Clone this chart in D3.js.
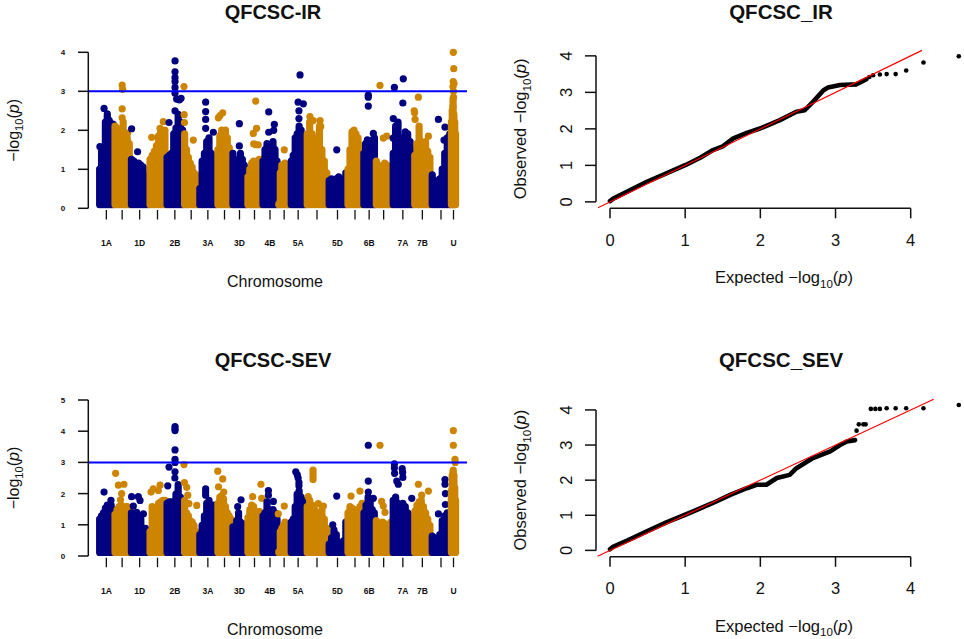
<!DOCTYPE html>
<html><head><meta charset="utf-8">
<script src="https://cdn.jsdelivr.net/npm/d3@7"></script>
<style>
body{margin:0;background:#fff}
svg{display:block}
text{font-family:"Liberation Sans",Arial,sans-serif;fill:#111}
</style>
</head><body>
<svg id="c" width="964" height="639"></svg>
<script>
// ---------------- DATA ----------------
const chromosomes = ["1A","1B","1D","2A","2B","2D","3A","3B","3D","4A","4B","4D","5A","5B","5D","6A","6B","6D","7A","7B","7D","U"];
const chromLengths = [15.3,16.3,18.7,17,17.7,15,18.3,15,15,15,16,12.3,15.7,22,19,16,12.3,16.7,21.7,17.3,20,5];
const chromTickLabels = ["1A","1D","2B","3A","3D","4B","5A","5D","6B","7A","7B","U"];

// dense SNP mass (upper envelope along each chromosome), QFCSC-IR
const irMass = [
  [1.1,1.55,1.3,2.3,2.45,2.35,2.25,2.25],
  [2.2,2.15,1.85,2.05,2.3,2.0,1.9,1.75],
  [1.35,1.3,1.15,1.25,1.2,1.15,0.95,0.75],
  [1.35,1.45,1.55,1.7,1.95,2.05,2.0,2.1],
  [1.4,1.45,1.5,2.0,2.15,2.5,2.3,2.1],
  [2.0,1.6,1.4,1.25,1.15,1.0,0.95,0.8],
  [0.6,1.3,1.5,1.8,1.9,1.5,1.4,1.35],
  [1.6,1.95,2.1,2.05,2.1,1.9,1.65,1.5],
  [1.5,1.3,1.2,1.35,1.5,1.35,1.2,1.1],
  [0.9,1.1,1.25,1.3,1.25,1.3,1.35,1.35],
  [1.3,1.6,1.75,1.65,1.7,1.8,1.6,1.3],
  [0.2,1.0,1.2,1.1,1.25,1.0,0.5,0.15],
  [1.3,1.45,1.9,2.0,2.2,2.1,1.9,1.7],
  [2.0,2.3,2.0,1.8,1.9,2.2,1.6,1.3,1.0],
  [0.8,0.85,0.8,0.85,0.9,0.7,0.85,1.0],
  [1.1,1.6,2.05,2.1,2.0,1.9,1.7,1.55],
  [1.5,1.75,1.85,1.8,1.7,1.85,1.9],
  [1.3,1.2,0.85,0.9,1.25,1.2,1.0,0.75],
  [1.5,2.2,2.3,1.9,1.8,2.05,2.0,1.8,1.6],
  [1.45,1.75,2.2,1.8,1.7,1.8,1.55,1.4],
  [0.95,0.8,0.6,0.85,1.1,1.5,1.9,2.0],
  [2.3,2.6,2.9,2.5,2.3,2.0]
];
// individual SNPs standing out: [chromosome, relative position, -log10(p)]
const irPeaks = [
  ["1A",0.08,1.58],["1A",0.35,2.56],["1A",0.56,2.42],
  ["1B",0.5,3.16],["1B",0.53,3.05],["1B",0.5,2.55],["1B",0.5,2.32],["1B",0.84,1.93],
  ["1D",0.07,2.04],["1D",0.39,1.45],
  ["2A",0.16,1.82],["2A",0.84,2.22],["2A",0.65,2.05],
  ["2B",0.17,2.2],["2B",0.51,3.78],["2B",0.51,3.5],["2B",0.51,3.35],["2B",0.51,3.25],["2B",0.51,3.1],["2B",0.51,2.95],["2B",0.51,2.5],["2B",0.6,2.8],["2B",0.75,2.78],["2B",0.85,2.82],
  ["2D",0.02,3.12],["2D",0.03,2.4],["2D",0.05,2.2],["2D",0.64,1.75],
  ["3A",0.38,2.72],["3A",0.38,2.48],["3A",0.38,2.28],["3A",0.38,2.05],["3A",0.8,1.95],
  ["3B",0.09,2.32],["3B",0.2,2.38],["3B",0.38,2.45],
  ["3D",0.49,2.17],["3D",0.49,1.6],
  ["4A",0.58,2.75],["4A",0.64,2.05],["4A",0.42,1.92],["4A",0.45,1.65],["4A",0.6,1.63],["4A",0.75,1.63],
  ["4B",0.42,2.47],["4B",0.42,1.95],["4B",0.77,2.15],["4B",0.73,2.0],
  ["4D",0.51,1.5],
  ["5A",0.62,3.42],["5A",0.5,2.72],["5A",0.83,2.68],["5A",0.55,2.5],["5A",0.55,2.3],
  ["5B",0.18,2.35],["5B",0.33,2.25],["5B",0.64,2.25],["5B",0.67,2.1],
  ["5D",0.46,1.5],
  ["6B",0.43,2.9],["6B",0.43,2.85],["6B",0.43,2.62],["6B",0.84,1.92],
  ["6D",0.28,3.15],["6D",0.48,1.8],["6D",0.68,1.85],
  ["7A",0.11,3.1],["7A",0.52,3.32],["7A",0.5,2.7],["7A",0.06,2.3],["7A",0.05,1.8],
  ["7B",0.27,2.85],["7B",0.03,2.5],["7B",0.05,2.45],["7B",0.08,2.28],["7B",0.85,1.85],
  ["7D",0.37,2.28],["7D",0.7,2.08],["7D",0.65,1.75],
  ["U",0.47,4.0],["U",0.55,3.58],["U",0.45,3.25],["U",0.6,3.2],["U",0.4,3.12],["U",0.5,3.0],["U",0.5,2.85],["U",0.4,2.6]
];

// QFCSC-SEV
const sevMass = [
  [1.3,1.4,1.5,1.65,1.75,1.7,1.75,1.6],
  [1.45,1.6,1.7,1.75,1.65,1.7,1.7,1.65],
  [1.5,1.3,1.2,1.35,1.3,1.0,1.0,0.9],
  [0.9,1.7,1.55,1.3,1.8,1.85,1.9,1.9],
  [1.8,1.85,1.85,1.7,2.1,2.4,2.0,1.8],
  [1.9,1.5,1.4,1.25,1.2,1.1,0.9,0.75],
  [0.8,1.1,1.4,1.8,1.9,1.5,1.5,1.6],
  [1.8,2.0,2.05,1.95,1.7,1.5,1.4,1.3],
  [1.05,1.0,1.25,1.5,1.2,1.15,1.1,1.1],
  [1.35,1.6,1.75,1.7,1.35,1.5,1.55,1.5],
  [1.4,1.5,1.85,1.6,1.5,1.6,1.5,1.3],
  [0.25,0.9,1.0,1.1,1.2,0.9,0.4,0.2],
  [1.2,1.3,1.7,2.1,2.2,2.0,1.9,1.8],
  [1.7,1.9,1.75,1.6,1.5,1.45,1.6,1.3,1.0],
  [0.5,0.7,0.95,0.8,0.55,0.5,0.6,1.2],
  [1.5,1.7,1.65,1.6,1.55,1.6,1.7,1.8],
  [1.5,1.75,2.0,1.9,1.6,1.5],
  [1.25,1.1,0.9,1.2,1.15,1.0,1.1,1.2],
  [1.9,2.0,1.8,1.6,1.8,1.7,1.5,1.4,1.3],
  [1.55,1.75,1.85,1.9,1.7,1.5,1.3,1.1],
  [0.75,0.7,0.6,0.8,1.25,1.4,1.5,1.4],
  [2.2,2.7,2.8,2.7,2.3,1.9]
];
const sevPeaks = [
  ["1A",0.35,2.05],["1A",0.8,1.78],
  ["1B",0.1,2.65],["1B",0.27,2.27],["1B",0.61,2.3],["1B",0.47,2.0],["1B",0.4,1.8],
  ["1D",0.07,1.9],["1D",0.43,1.9],["1D",0.52,1.78],["1D",0.16,1.6],["1D",0.34,1.4],["1D",0.7,1.35],
  ["2A",0.25,2.15],["2A",0.12,2.05],["2A",0.65,2.27],["2A",0.55,2.1],
  ["2B",0.51,4.15],["2B",0.51,4.08],["2B",0.51,4.02],["2B",0.51,3.4],["2B",0.51,3.1],["2B",0.51,3.0],["2B",0.51,2.7],["2B",0.5,2.5],["2B",0.17,2.85],["2B",0.1,2.25],
  ["2D",0.02,2.93],["2D",0.05,2.35],["2D",0.2,2.2],["2D",0.27,1.95],["2D",0.35,1.68],["2D",0.87,1.62],
  ["3A",0.38,2.15],["3A",0.38,2.05],["3A",0.38,1.95],["3A",0.8,1.63],
  ["3B",0.05,2.72],["3B",0.38,2.47],["3B",0.1,2.22],["3B",0.45,2.05],
  ["3D",0.6,1.8],["3D",0.38,1.58],
  ["4A",0.38,1.9],["4A",0.93,2.3],["4A",0.98,1.85],
  ["4B",0.4,2.1],["4B",0.4,1.95],["4B",0.71,1.75],
  ["4D",0.51,1.6],["4D",0.02,1.35],
  ["5A",0.35,2.7],["5A",0.45,2.6],["5A",0.5,2.5],["5A",0.55,2.35],["5A",0.55,2.25],
  ["5B",0.32,2.75],["5B",0.32,2.65],["5B",0.32,2.55],["5B",0.32,2.45],["5B",0.1,1.9],["5B",0.56,1.68],["5B",0.79,1.6],
  ["5D",0.46,1.92],["5D",0.25,1.0],
  ["6A",0.25,1.92],["6A",0.81,2.08],
  ["6B",0.43,3.55],["6B",0.43,2.4],["6B",0.43,2.05],["6B",0.84,1.85],
  ["6D",0.28,3.55],["6D",0.38,1.75],["6D",0.48,1.6],["6D",0.58,1.4],
  ["7A",0.11,2.95],["7A",0.11,2.82],["7A",0.12,2.65],["7A",0.22,2.4],["7A",0.29,2.3],["7A",0.47,2.8],["7A",0.49,2.68],["7A",0.5,2.52],["7A",0.91,1.85],
  ["7B",0.27,2.3],["7B",0.85,2.08],["7B",0.46,1.95],
  ["7D",0.7,2.45],["7D",0.7,2.3],["7D",0.72,2.0],["7D",0.72,1.65],["7D",0.37,1.35],
  ["U",0.47,4.02],["U",0.47,3.55],["U",0.8,3.1],["U",0.85,3.0],["U",0.45,2.75]
];

// Q-Q plots: dense part of the curve and the sparse upper tail
const qqIrExp  = [0,0.044,0.25,0.49,0.75,1.0,1.2,1.37,1.5,1.64,1.82,1.995,2.26,2.48,2.59,2.70,2.84,2.90,3.06,3.28,3.41];
const qqIrObs  = [0.02,0.09,0.30,0.55,0.78,1.005,1.21,1.42,1.52,1.74,1.89,2.01,2.24,2.47,2.51,2.74,3.06,3.13,3.20,3.22,3.36];
const qqIrTailExp = [3.45,3.50,3.59,3.68,3.80,3.94,4.17,4.64];
const qqIrTailObs = [3.42,3.47,3.49,3.50,3.50,3.60,3.82,3.99];

const qqSevExp = [0,0.04,0.25,0.49,0.75,1.0,1.37,1.6,1.82,1.95,2.08,2.22,2.39,2.48,2.70,2.93,3.06,3.15,3.26];
const qqSevObs = [0.03,0.1,0.30,0.54,0.80,1.015,1.35,1.58,1.77,1.87,1.87,2.06,2.15,2.34,2.63,2.82,3.0,3.10,3.14];
const qqSevTailExp = [3.28,3.31,3.37,3.40,3.47,3.53,3.59,3.68,3.80,3.94,4.17,4.64];
const qqSevTailObs = [3.41,3.59,3.59,3.59,4.03,4.03,4.03,4.05,4.05,4.05,4.05,4.14];

const qqTicks = [0,1,2,3,4];
const threshold = 3;

// ---------------- DRAW ----------------
const NAVY = "#000080", ORANGE = "#CD8500";
const svg = d3.select("#c");
svg.append("rect").attr("width",964).attr("height",639).attr("fill","#fff");

const starts = [0, ...d3.cumsum(chromLengths)];
const total = starts[starts.length-1];
const xMan = d3.scaleLinear().domain([0,total]).range([98.7,456]);
const idx = Object.fromEntries(chromosomes.map((c,i)=>[c,i]));

function logLabel(g, prefix, size){
  const t = g.append("text").attr("font-size",size).attr("text-anchor","middle");
  t.append("tspan").text(prefix + "\u2212log");
  t.append("tspan").attr("font-size",size*0.7).attr("dy",size*0.28).text("10");
  t.append("tspan").attr("dy",-size*0.28).text("(");
  t.append("tspan").attr("font-style","italic").text("p");
  t.append("tspan").text(")");
  return t;
}

function manhattan(oy, title, mass, peaks, yMax, yTop){
  // oy: pixel of y=0 ; yTop: pixel of y=yMax
  const g = svg.append("g");
  const y = d3.scaleLinear().domain([0,yMax]).range([oy,yTop]);
  const r = 3.6;
  chromosomes.forEach((c,i)=>{
    const col = i%2===0 ? NAVY : ORANGE;
    const cg = g.append("g").attr("stroke",col).attr("fill",col);
    const n = mass[i].length;
    cg.selectAll("line").data(mass[i]).join("line")
      .attr("x1",(d,j)=>xMan(starts[i] + (j+0.5)/n*chromLengths[i]))
      .attr("x2",(d,j)=>xMan(starts[i] + (j+0.5)/n*chromLengths[i]))
      .attr("y1",oy - r)
      .attr("y2",d=>Math.min(y(d)+r, oy - r))
      .attr("stroke-width",2*r).attr("stroke-linecap","round");
    cg.selectAll("circle").data(peaks.filter(p=>p[0]===c)).join("circle")
      .attr("cx",d=>xMan(starts[i] + d[1]*chromLengths[i]))
      .attr("cy",d=>y(d[2]))
      .attr("r",r).attr("stroke","none");
  });
  // threshold
  g.append("line").attr("x1",88).attr("x2",467).attr("y1",y(threshold)).attr("y2",y(threshold))
    .attr("stroke","#0000FF").attr("stroke-width",2);
  // y axis
  const ya = g.append("g").attr("stroke","#111").attr("stroke-width",1.5);
  ya.append("line").attr("x1",88.3).attr("x2",88.3).attr("y1",y(0)).attr("y2",y(yMax));
  const yt = d3.range(0,yMax+1);
  ya.selectAll(".tk").data(yt).join("line").attr("class","tk")
    .attr("x1",78).attr("x2",88.3).attr("y1",d=>y(d)).attr("y2",d=>y(d));
  g.selectAll(".yl").data(yt).join("text").attr("class","yl")
    .attr("x",63).attr("y",d=>y(d)+3).attr("text-anchor","middle")
    .attr("font-size",8).attr("font-weight","bold").text(d=>d);
  // x ticks
  const centers = chromosomes.map((c,i)=>xMan(starts[i]+chromLengths[i]/2));
  g.selectAll(".xt").data(centers).join("line").attr("class","xt")
    .attr("x1",d=>d).attr("x2",d=>d).attr("y1",oy+1.7).attr("y2",oy+11.2)
    .attr("stroke","#111").attr("stroke-width",1.3);
  g.selectAll(".xl").data(chromosomes.filter(c=>chromTickLabels.includes(c))).join("text").attr("class","xl")
    .attr("x",c=>centers[idx[c]]).attr("y",oy+38).attr("text-anchor","middle")
    .attr("font-size",8.5).attr("font-weight","bold").text(c=>c);
  g.append("text").attr("x",275).attr("y",oy+78.5).attr("text-anchor","middle")
    .attr("font-size",16).text("Chromosome");
  g.append("text").attr("x",273).attr("y",oy-189.5).attr("text-anchor","middle")
    .attr("font-size",20).attr("font-weight","bold").text(title);
  const yl = logLabel(g,"",16);
  yl.attr("transform",`translate(19,${(y(0)+y(yMax))/2}) rotate(-90)`);
}

manhattan(208.3,"QFCSC-IR",irMass,irPeaks,4,52.3);
manhattan(556,"QFCSC-SEV",sevMass,sevPeaks,5,400);

function qq(regBottom, regTop, title, ex, ob, tex, tob){
  const g = svg.append("g");
  const ymax = d3.max(tob);
  const lo = -0.04*ymax, hi = 1.04*ymax;
  const x = d3.scaleLinear().domain([0,4]).range([610,910.7]);
  const y = d3.scaleLinear().domain([lo,hi]).range([regBottom,regTop]);
  const pts = ex.map((e,i)=>[e,ob[i]]);
  g.append("path").attr("d",d3.line().x(d=>x(d[0])).y(d=>y(d[1]))(pts))
    .attr("fill","none").attr("stroke","#000").attr("stroke-width",4.6)
    .attr("stroke-linecap","round").attr("stroke-linejoin","round");
  g.selectAll("circle").data(tex.map((e,i)=>[e,tob[i]])).join("circle")
    .attr("cx",d=>x(d[0])).attr("cy",d=>y(d[1])).attr("r",2.3).attr("fill","#000");
  // y = x reference
  g.append("line").attr("x1",x(lo)).attr("y1",y(lo)).attr("x2",x(hi)).attr("y2",y(hi))
    .attr("stroke","#FF0000").attr("stroke-width",1.2);
  // axes
  const ax = g.append("g").attr("stroke","#111").attr("stroke-width",1.5);
  const axX = 596, axY = regBottom + 0.6;
  ax.append("line").attr("x1",axX).attr("x2",axX).attr("y1",y(0)).attr("y2",y(4));
  ax.selectAll(".ty").data(qqTicks).join("line").attr("class","ty")
    .attr("x1",axX-11).attr("x2",axX).attr("y1",d=>y(d)).attr("y2",d=>y(d));
  ax.append("line").attr("x1",x(0)).attr("x2",x(4)).attr("y1",axY).attr("y2",axY);
  ax.selectAll(".tx").data(qqTicks).join("line").attr("class","tx")
    .attr("x1",d=>x(d)).attr("x2",d=>x(d)).attr("y1",axY).attr("y2",axY+10);
  g.selectAll(".lx").data(qqTicks).join("text").attr("class","lx")
    .attr("x",d=>x(d)).attr("y",axY+37.3).attr("text-anchor","middle").attr("font-size",16.5).text(d=>d);
  g.selectAll(".ly").data(qqTicks).join("text").attr("class","ly")
    .attr("transform",d=>`translate(572,${y(d)}) rotate(-90)`).attr("text-anchor","middle")
    .attr("font-size",16.5).text(d=>d);
  const xl = logLabel(g,"Expected  ",16.5);
  xl.attr("x",784).attr("y",axY+75);
  const yl = logLabel(g,"Observed  ",16.5);
  yl.attr("transform",`translate(526,${(y(0)+y(4))/2}) rotate(-90)`);
  g.append("text").attr("x",781).attr("y",regBottom-188.8).attr("text-anchor","middle")
    .attr("font-size",20.5).attr("font-weight","bold").text(title);
}

qq(207.7,50.4,"QFCSC_IR",qqIrExp,qqIrObs,qqIrTailExp,qqIrTailObs);
qq(556.2,399.2,"QFCSC_SEV",qqSevExp,qqSevObs,qqSevTailExp,qqSevTailObs);
</script>
</body></html>
